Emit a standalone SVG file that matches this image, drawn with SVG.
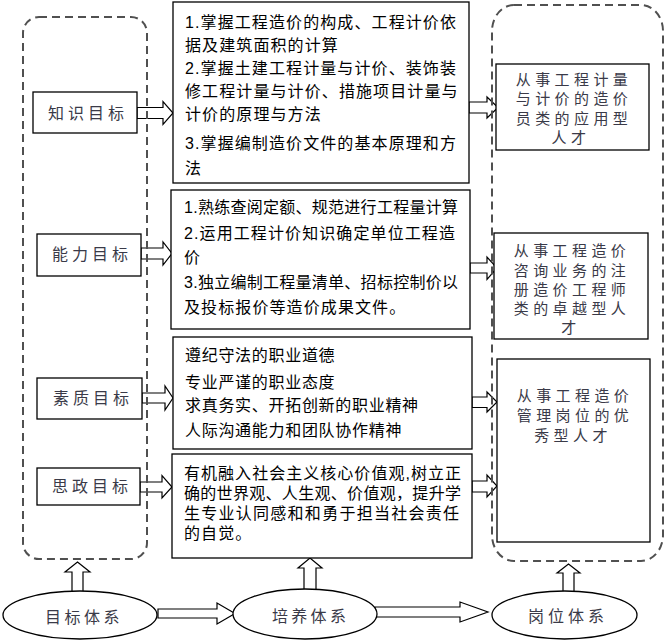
<svg xmlns="http://www.w3.org/2000/svg" width="670" height="644" viewBox="0 0 670 644">
<style>
.box{fill:#fff;stroke:#000;stroke-width:1.3}
.cont{fill:none;stroke:#505050;stroke-width:2;stroke-dasharray:8 5}
.arr{fill:#fff;stroke:#000;stroke-width:1.2;stroke-linejoin:miter}
.t{font-family:"Liberation Sans","Noto Sans CJK SC",sans-serif;font-size:16px;fill:#000}
.b1{letter-spacing:1.1px}
.b3{letter-spacing:0.7px}
.lab{font-family:"Noto Sans CJK SC",sans-serif;font-size:16px;fill:#3a3a48;letter-spacing:4px}
.rt{font-family:"Noto Sans CJK SC",sans-serif;font-size:15px;fill:#3a3a48;letter-spacing:4.4px;text-anchor:middle}
</style>
<rect width="670" height="644" fill="#fff"/>
<g id="connectors">
<polygon class="arr" points="137,107.5 163,107.5 163,101.5 173,113 163,124.5 163,118.5 137,118.5"/>
<polygon class="arr" points="141,248 163,248 163,242 172,253.5 163,265 163,259 141,259"/>
<polygon class="arr" points="142,393 165,393 165,386 173,398 165,410 165,403 142,403"/>
<polygon class="arr" points="140,482 162,482 162,475.5 172,487 162,498 162,492 140,492"/>
<polygon class="arr" points="469,102 487,102 487,97 498,107.5 487,118 487,113 469,113"/>
<polygon class="arr" points="470,263 487,263 487,257 497,268 487,279.5 487,273 470,273"/>
<polygon class="arr" points="472,397 487,397 487,392 497,402 487,412 487,407.5 472,407.5"/>
<polygon class="arr" points="472,481 487,481 487,475 497,486 487,497 487,492 472,492"/>
<polygon class="arr" points="72,594 72,572 65,572 77.5,562 90,572 83,572 83,594"/>
<polygon class="arr" points="304,592 304,568 298,568 310,558 322,568 316,568 316,592"/>
<polygon class="arr" points="563,593 563,573 557,573 568.5,564 580,573 574,573 574,593"/>
<polygon class="arr" points="158,609 217,609 217,603 235,613.5 217,624 217,618 158,618"/>
<polygon class="arr" points="375,607 460,607 460,602 488,612 460,622 460,617 375,617"/>
</g>
<g id="containers">
<rect id="left-container" class="cont" x="23" y="17" width="124" height="542" rx="16" ry="16"/>
<rect id="right-container" class="cont" x="492" y="5" width="171" height="556" rx="22" ry="26"/>
</g>
<g id="goal-knowledge">
<rect class="box" x="33" y="92" width="104" height="41"/>
<text class="lab" x="48" y="119">知识目标</text>
</g>
<g id="goal-ability">
<rect class="box" x="37" y="234" width="104" height="42"/>
<text class="lab" x="52" y="260">能力目标</text>
</g>
<g id="goal-quality">
<rect class="box" x="37" y="378" width="105" height="41"/>
<text class="lab" x="53" y="404">素质目标</text>
</g>
<g id="goal-ideology">
<rect class="box" x="37" y="468" width="103" height="37"/>
<text class="lab" x="52" y="492">思政目标</text>
</g>
<g id="content-knowledge">
<rect class="box" x="173" y="2" width="296" height="181"/>
<text class="t b1" x="185" y="28">1.掌握工程造价的构成、工程计价依</text>
<text class="t b1" x="185" y="51">据及建筑面积的计算</text>
<text class="t b1" x="185" y="74">2.掌握土建工程计量与计价、装饰装</text>
<text class="t b1" x="185" y="97">修工程计量与计价、措施项目计量与</text>
<text class="t b1" x="185" y="120">计价的原理与方法</text>
<text class="t b1" x="185" y="149">3.掌握编制造价文件的基本原理和方</text>
<text class="t b1" x="185" y="174">法</text>
</g>
<g id="content-ability">
<rect class="box" x="171" y="190" width="299" height="139"/>
<text class="t" x="184" y="213" textLength="274" lengthAdjust="spacing">1.熟练查阅定额、规范进行工程量计算</text>
<text class="t b1" x="184" y="239">2.运用工程计价知识确定单位工程造</text>
<text class="t b1" x="184" y="263">价</text>
<text class="t" x="184" y="288" textLength="274" lengthAdjust="spacing">3.独立编制工程量清单、招标控制价以</text>
<text class="t b1" x="184" y="313">及投标报价等造价成果文件。</text>
</g>
<g id="content-quality">
<rect class="box" x="173" y="337" width="299" height="112"/>
<text class="t b3" x="185" y="361">遵纪守法的职业道德</text>
<text class="t b3" x="185" y="388">专业严谨的职业态度</text>
<text class="t b3" x="185" y="411">求真务实、开拓创新的职业精神</text>
<text class="t b3" x="185" y="436">人际沟通能力和团队协作精神</text>
</g>
<g id="content-ideology">
<rect class="box" x="172" y="454" width="300" height="104"/>
<text class="t" x="184" y="479" textLength="277" lengthAdjust="spacing">有机融入社会主义核心价值观,树立正</text>
<text class="t" x="184" y="499" textLength="277" lengthAdjust="spacing">确的世界观、人生观、价值观，提升学</text>
<text class="t" x="184" y="519" textLength="275" lengthAdjust="spacing">生专业认同感和和勇于担当社会责任</text>
<text class="t b1" x="184" y="539">的自觉。</text>
</g>
<g id="post-application">
<rect class="box" x="496" y="64" width="153" height="86"/>
<text class="rt" x="574" y="85">从事工程计量</text>
<text class="rt" x="574" y="104">与计价的造价</text>
<text class="rt" x="574" y="124">员类的应用型</text>
<text class="rt" x="571" y="143">人才</text>
</g>
<g id="post-consulting">
<rect class="box" x="494" y="233" width="154" height="106"/>
<text class="rt" x="572" y="256">从事工程造价</text>
<text class="rt" x="572" y="275.5">咨询业务的注</text>
<text class="rt" x="572" y="295">册造价工程师</text>
<text class="rt" x="572" y="314">类的卓越型人</text>
<text class="rt" x="571" y="333">才</text>
</g>
<g id="post-management">
<rect class="box" x="497" y="359" width="153" height="183"/>
<text class="rt" x="575" y="401">从事工程造价</text>
<text class="rt" x="575" y="421">管理岗位的优</text>
<text class="rt" x="573" y="441">秀型人才</text>
</g>
<g id="system-goal">
<ellipse class="box" cx="80" cy="615" rx="77" ry="24"/>
<text class="lab" x="45" y="623" style="letter-spacing:3.5px">目标体系</text>
</g>
<g id="system-training">
<ellipse class="box" cx="305" cy="614" rx="72" ry="25"/>
<text class="lab" x="272" y="622" style="letter-spacing:3.3px">培养体系</text>
</g>
<g id="system-post">
<ellipse class="box" cx="564.5" cy="615" rx="72.5" ry="24"/>
<text class="lab" x="528" y="622" style="letter-spacing:4px">岗位体系</text>
</g>
</svg>
